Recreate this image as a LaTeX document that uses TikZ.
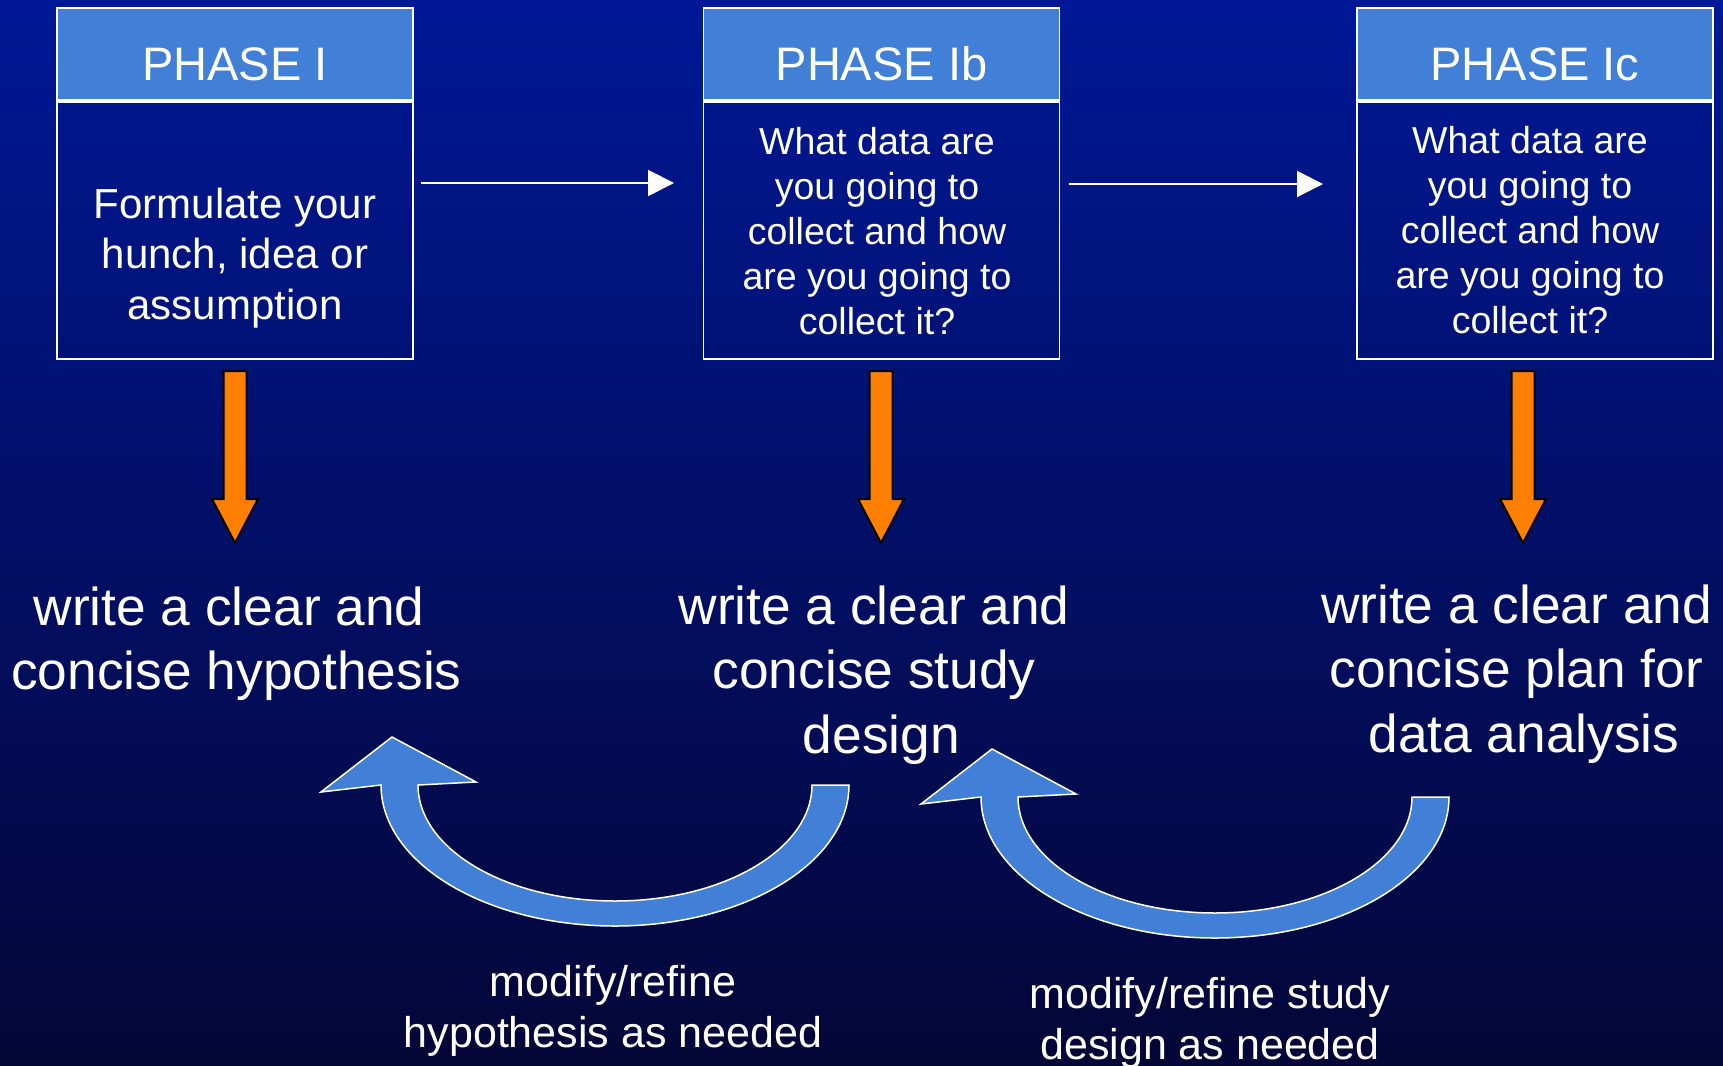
\documentclass[tikz,border=0pt]{standalone}
\usepackage{fontspec}
\setmainfont{Liberation Sans}
\usetikzlibrary{arrows.meta}

\definecolor{bgtop}{RGB}{0,24,150}
\definecolor{bgmid}{RGB}{0,12,105}
\definecolor{bgbot}{RGB}{4,6,55}
\definecolor{headblue}{RGB}{66,127,215}
\definecolor{arrorange}{RGB}{255,128,0}

\begin{document}
\begin{tikzpicture}[x=1pt,y=-1pt,
  head/.style={draw=white,line width=1.5pt,fill=headblue,text=white,
    minimum width=356pt,minimum height=92pt,inner sep=0pt,
    text height=52pt,text depth=0pt,font=\fontsize{47}{56}\selectfont},
  body/.style={draw=white,line width=1.5pt,minimum width=356pt,
    minimum height=257pt,inner sep=0pt},
  boxtext/.style={text=white,align=center,inner sep=0pt,
    font=\fontsize{37.5}{45}\selectfont},
  goal/.style={text=white,align=center,inner sep=0pt,
    font=\fontsize{53.3}{64.3}\selectfont},
  note/.style={text=white,align=center,inner sep=0pt,
    font=\fontsize{43}{51.6}\selectfont},
  flow/.style={draw=white,line width=2pt,-{Triangle[length=26pt,width=26pt]}},
  down/.style={draw=black,line width=2pt,fill=arrorange,line join=miter},
  back/.style={draw=white,line width=1.5pt,fill=headblue}]

\useasboundingbox (0,0) rectangle (1723,1065);
\shade[top color=bgtop,middle color=bgmid,bottom color=bgbot] (0,0) rectangle (1723,1065);

%Phase boxes

\node[head] (h1) at (235,54) {PHASE I};
\node[body] (b1) at (235,230.5) {};
\node[boxtext,font=\fontsize{42}{50.5}\selectfont] (t1) at (235,258) {Formulate your\\hunch, idea or\\assumption};

\node[head] (h2) at (881.5,54) {PHASE Ib};
\node[body] (b2) at (881.5,230.5) {};
\node[boxtext] (t2) at (877,231) {What data are\\you going to\\collect and how\\are you going to\\collect it?};

\node[head] (h3) at (1535,54) {PHASE Ic};
\node[body] (b3) at (1535,230.5) {};
\node[boxtext] (t3) at (1530,230) {What data are\\you going to\\collect and how\\are you going to\\collect it?};

\coordinate (p1) at (421,183);
\coordinate (p2) at (674,183);
\coordinate (p3) at (1069,184);
\coordinate (p4) at (1323,184);
\draw[flow] (p1) -- (p2);
\draw[flow] (p3) -- (p4);

%Down arrows

\coordinate (d1) at (235,371);
\coordinate (d2) at (881,371);
\coordinate (d3) at (1523,371);
\draw[down] (d1) -- ++(11.5,0) -- ++(0,128) -- ++(11.5,0) -- ++(-23,44) -- ++(-23,-44) -- ++(11.5,0) -- ++(0,-128) -- cycle;
\draw[down] (d2) -- ++(11.5,0) -- ++(0,128) -- ++(11.5,0) -- ++(-23,44) -- ++(-23,-44) -- ++(11.5,0) -- ++(0,-128) -- cycle;
\draw[down] (d3) -- ++(11.5,0) -- ++(0,128) -- ++(11.5,0) -- ++(-23,44) -- ++(-23,-44) -- ++(11.5,0) -- ++(0,-128) -- cycle;

\node[goal] (g1) at (236.5,643.5) {write a clear and\kern.278em\\concise hypothesis};
\node[goal] (g2) at (881.5,675) {write a clear and\kern.278em\\concise study\kern.278em\\design};
\node[goal] (g3) at (1524,674) {write a clear and\kern.278em\\concise plan for\kern.278em\\data analysis};

%Loops back

\coordinate (c1) at (615,785);
\coordinate (c2) at (1215,797);
\draw[back] ([shift={(197,0)}]c1) arc[start angle=0,end angle=180,x radius=197,y radius=116]
  -- ([shift={(-139,-3)}]c1) -- ([shift={(-223,-48)}]c1) -- ([shift={(-294,7)}]c1)
  -- ([shift={(-234,0)}]c1) arc[start angle=180,end angle=0,x radius=234,y radius=141] -- cycle;
\draw[back] ([shift={(197,0)}]c2) arc[start angle=0,end angle=180,x radius=197,y radius=116]
  -- ([shift={(-139,-3)}]c2) -- ([shift={(-223,-48)}]c2) -- ([shift={(-294,7)}]c2)
  -- ([shift={(-234,0)}]c2) arc[start angle=180,end angle=0,x radius=234,y radius=141] -- cycle;

\node[note] (n1) at (613,1011) {modify/refine\\hypothesis as needed};
\node[note] (n2) at (1210,1023) {modify/refine study\\design as needed};

\end{tikzpicture}
\end{document}
